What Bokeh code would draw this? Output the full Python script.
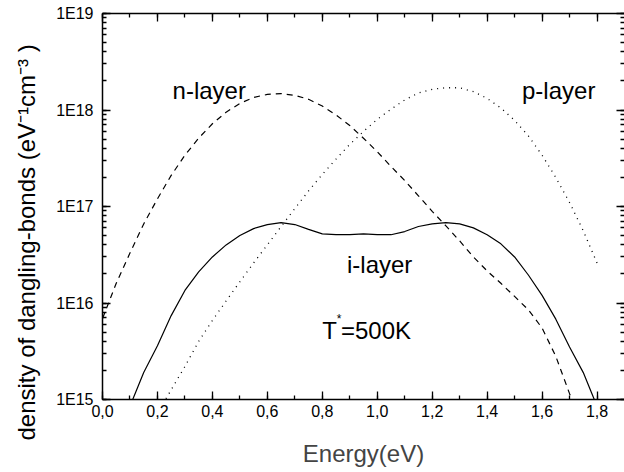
from bokeh.plotting import figure
from bokeh.models import (LogAxis, LinearAxis, Range1d, LogTicker, SingleIntervalTicker,
                          CustomJSTickFormatter, Label, Title, ColumnDataSource)
from bokeh.embed import file_html
from bokeh.resources import INLINE

# ---------------- data ----------------
energy_n = [0.00, 0.05, 0.10, 0.15, 0.20, 0.25, 0.30, 0.35, 0.40, 0.45, 0.50, 0.55,
            0.60, 0.65, 0.70, 0.75, 0.80, 0.85, 0.90, 0.95, 1.00, 1.05, 1.10, 1.15,
            1.20, 1.25, 1.30, 1.35, 1.40, 1.45, 1.50, 1.55, 1.60, 1.65, 1.70, 1.72]
dos_n = [6.9e15, 1.6e16, 3.3e16, 6.6e16, 1.2e17, 2.1e17, 3.4e17, 5.1e17, 7.2e17, 9.5e17,
         1.17e18, 1.35e18, 1.45e18, 1.48e18, 1.42e18, 1.29e18, 1.10e18, 8.9e17, 6.9e17,
         5.1e17, 3.7e17, 2.6e17, 1.86e17, 1.29e17, 8.9e16, 6.3e16, 4.4e16, 3.0e16,
         2.15e16, 1.6e16, 1.17e16, 8.5e15, 5.5e15, 2.8e15, 1.15e15, 8.5e14]

energy_p = [0.22, 0.25, 0.30, 0.35, 0.40, 0.45, 0.50, 0.55, 0.60, 0.65, 0.70, 0.75,
            0.80, 0.85, 0.90, 0.95, 1.00, 1.05, 1.10, 1.15, 1.20, 1.25, 1.30, 1.35,
            1.40, 1.45, 1.50, 1.55, 1.60, 1.65, 1.70, 1.75, 1.80]
dos_p = [9.0e14, 1.26e15, 2.2e15, 4.0e15, 6.6e15, 1.05e16, 1.66e16, 2.6e16, 4.0e16,
         6.2e16, 9.5e16, 1.45e17, 2.15e17, 3.1e17, 4.4e17, 6.0e17, 8.0e17, 1.02e18,
         1.27e18, 1.50e18, 1.64e18, 1.70e18, 1.70e18, 1.55e18, 1.32e18, 1.05e18,
         7.8e17, 5.4e17, 3.4e17, 2.0e17, 1.1e17, 5.6e16, 2.6e16]

energy_i = [0.10, 0.11, 0.15, 0.20, 0.25, 0.30, 0.35, 0.40, 0.45, 0.50, 0.55, 0.60,
            0.65, 0.70, 0.75, 0.80, 0.85, 0.90, 0.95, 1.00, 1.05, 1.10, 1.15, 1.20,
            1.25, 1.30, 1.35, 1.40, 1.45, 1.50, 1.55, 1.60, 1.65, 1.70, 1.75, 1.79, 1.80]
dos_i = [9.0e14, 1.0e15, 1.9e15, 3.6e15, 7.4e15, 1.35e16, 2.1e16, 3.0e16, 4.0e16,
         5.0e16, 5.9e16, 6.5e16, 6.8e16, 6.5e16, 5.8e16, 5.2e16, 5.1e16, 5.1e16,
         5.2e16, 5.1e16, 5.1e16, 5.5e16, 6.2e16, 6.6e16, 6.8e16, 6.6e16, 6.0e16,
         5.1e16, 4.1e16, 3.0e16, 1.95e16, 1.2e16, 6.8e15, 3.5e15, 1.9e15, 1.0e15, 9.0e14]

x_label = "Energy(eV)"
y_label = "density of dangling-bonds  (eV\u207b\u00b9cm\u207b\u00b3 )"

FONT = "Liberation Sans"

p = figure(width=624, height=472, y_axis_type="log",
           x_range=Range1d(0, 1.9), y_range=Range1d(1e15, 1e19),
           output_backend="svg", toolbar_location=None,
           min_border_left=102, min_border_right=0, min_border_top=13, min_border_bottom=73,
           background_fill_color="white", border_fill_color="white")
p.outline_line_color = None
p.xgrid.visible = False
p.ygrid.visible = False

src_n = ColumnDataSource(dict(x=energy_n, y=dos_n))
src_p = ColumnDataSource(dict(x=energy_p, y=dos_p))
src_i = ColumnDataSource(dict(x=energy_i, y=dos_i))
p.line("x", "y", source=src_n, line_color="black", line_width=1.2, line_dash="6 5")
p.line("x", "y", source=src_p, line_color="black", line_width=1.3, line_dash="1 5")
p.line("x", "y", source=src_i, line_color="black", line_width=1.2)

EMPTY = CustomJSTickFormatter(code="return '';")


def style_common(ax, labels):
    ax.major_tick_in = 8
    ax.major_tick_out = 0
    ax.minor_tick_in = 4
    ax.minor_tick_out = 0
    ax.axis_line_width = 1.5
    ax.major_tick_line_width = 1.3
    ax.minor_tick_line_width = 1.3
    ax.major_label_text_font = FONT
    ax.major_label_text_font_size = "16px"
    ax.major_label_text_color = "black"
    if not labels:
        ax.formatter = EMPTY
        ax.major_label_standoff = 0


def style_x(ax, labels=True):
    ax.ticker = SingleIntervalTicker(interval=0.2, num_minor_ticks=2)
    ax.formatter = CustomJSTickFormatter(code="return tick.toFixed(1).replace('.', ',');")
    ax.major_label_standoff = 5
    style_common(ax, labels)


def style_y(ax, labels=True):
    ax.ticker = LogTicker(num_minor_ticks=10)
    ax.formatter = CustomJSTickFormatter(code="return '1E' + Math.round(Math.log10(tick));")
    ax.major_label_standoff = 9
    style_common(ax, labels)


xb = p.xaxis[0]
yl = p.yaxis[0]
style_x(xb)
style_y(yl)
xb.axis_label = x_label
xb.axis_label_text_font = FONT
xb.axis_label_text_font_style = "normal"
xb.axis_label_text_font_size = "24px"
xb.axis_label_standoff = 20

# y-axis title: a side title so that it can start below the frame like the reference
ytitle = Title(text=y_label, align="left", offset=-41, vertical_align="top",
               text_font=FONT, text_font_size="24px", text_font_style="normal",
               text_color="black", standoff=24)
p.add_layout(ytitle, "left")

top = LinearAxis()
style_x(top, labels=False)
p.add_layout(top, "above")
right = LogAxis()
style_y(right, labels=False)
right.axis_line_color = None
p.add_layout(right, "right")

for txt, xx, yy in [("n-layer", 0.255, 1.6e18), ("p-layer", 1.527, 1.6e18),
                    ("i-layer", 0.89, 2.5e16)]:
    p.add_layout(Label(x=xx, y=yy, text=txt, text_font=FONT, text_font_size="24px",
                       text_color="black", text_baseline="alphabetic"))

p.add_layout(Label(x=0.80, y=5.2e15, text="T", text_font=FONT, text_font_size="24px",
                   text_color="black", text_baseline="alphabetic"))
p.add_layout(Label(x=0.853, y=6.8e15, text="*", text_font=FONT, text_font_size="12px",
                   text_color="black", text_baseline="alphabetic"))
p.add_layout(Label(x=0.868, y=5.2e15, text="=500K", text_font=FONT, text_font_size="24px",
                   text_color="black", text_baseline="alphabetic"))

open("out.html", "w").write(file_html(p, INLINE))
